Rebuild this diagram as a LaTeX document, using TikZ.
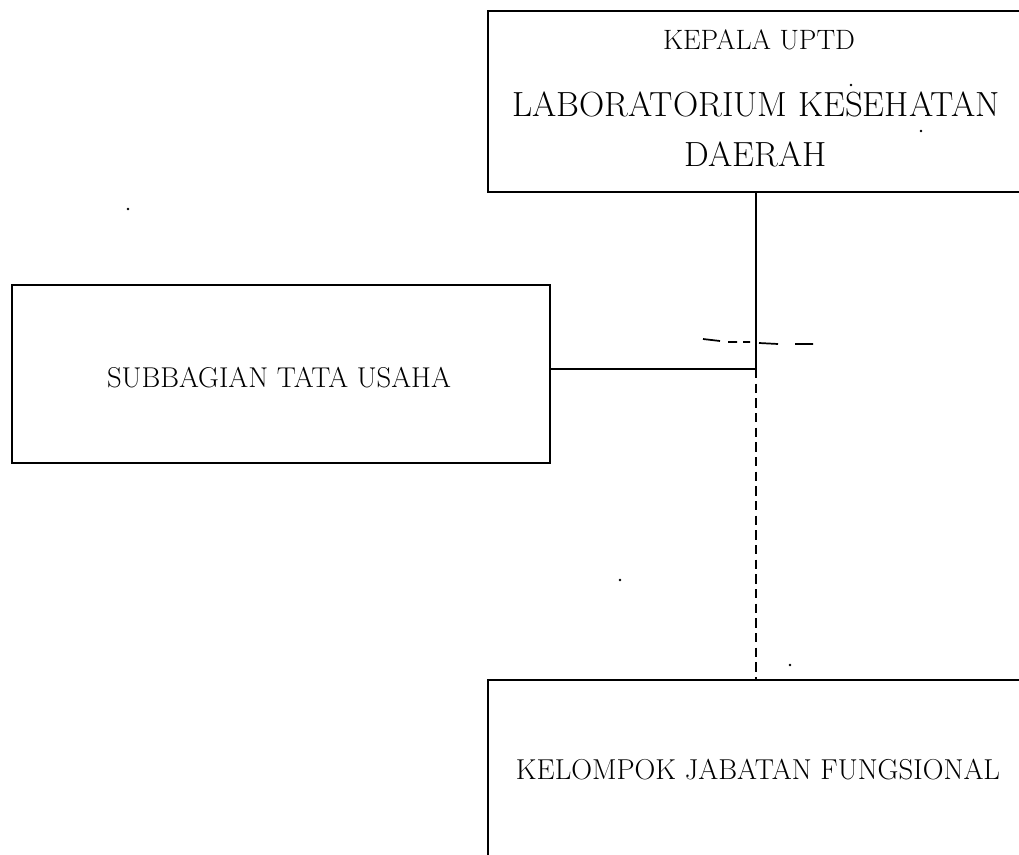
\documentclass[tikz,border=0pt]{standalone}
\usetikzlibrary{calc}
\begin{document}
\begin{tikzpicture}[x=0.75pt,y=-0.75pt,
  box/.style={draw=black,line width=2.2pt,rectangle,inner sep=0pt},
  link/.style={draw=black,line width=2.1pt},
  dashlink/.style={draw=black,line width=1.9pt,dash pattern=on 7pt off 4pt},
  speck/.style={fill=black,draw=none,circle,inner sep=0pt,minimum size=2.2pt}]
\useasboundingbox (0,0) rectangle (1019,855);
\clip (0,0) rectangle (1019,855);
% boxes
\node[box,minimum width=536*0.75pt,minimum height=181*0.75pt] (top) at (756,101.5) {};
\node[box,minimum width=538*0.75pt,minimum height=178*0.75pt] (sub) at (281,374) {};
\node[box,minimum width=536*0.75pt,minimum height=200*0.75pt] (bot) at (756,780) {};
% texts
\node (t1) at (759,40) {\fontsize{21}{24}\selectfont KEPALA UPTD};
\node (t2) at (756,104) {\fontsize{26.2}{30}\selectfont LABORATORIUM KESEHATAN};
\node (t3) at (756,154) {\fontsize{26.2}{30}\selectfont DAERAH};
\node (t4) at (279,378) {\fontsize{21.5}{25}\selectfont SUBBAGIAN TATA USAHA};
\node (t5) at (758,770) {\fontsize{21.6}{25}\selectfont KELOMPOK JABATAN FUNGSIONAL};
% connectors
\coordinate (j) at (756,369);
\draw[link] (top.south) -- (j);
\draw[link] (sub.east |- j) -- (j);
\draw[dashlink] (j) -- (bot.north);
% stray broken stroke across the trunk
\coordinate (s1) at (703,339); \coordinate (s2) at (720,341);
\coordinate (s3) at (728,342); \coordinate (s4) at (737,342);
\coordinate (s5) at (743,342); \coordinate (s6) at (750,342);
\coordinate (s7) at (759,343); \coordinate (s8) at (778,344);
\coordinate (s9) at (795,344); \coordinate (s10) at (813,344);
\draw[line width=1.3pt] (s1) -- (s2) (s3) -- (s4) (s5) -- (s6) (s7) -- (s8) (s9) -- (s10);
% specks
\node[speck] (d1) at (128,209) {};
\node[speck] (d2) at (851,85) {};
\node[speck] (d3) at (921,131) {};
\node[speck] (d4) at (620,580) {};
\node[speck] (d5) at (790,665) {};
\end{tikzpicture}
\end{document}
